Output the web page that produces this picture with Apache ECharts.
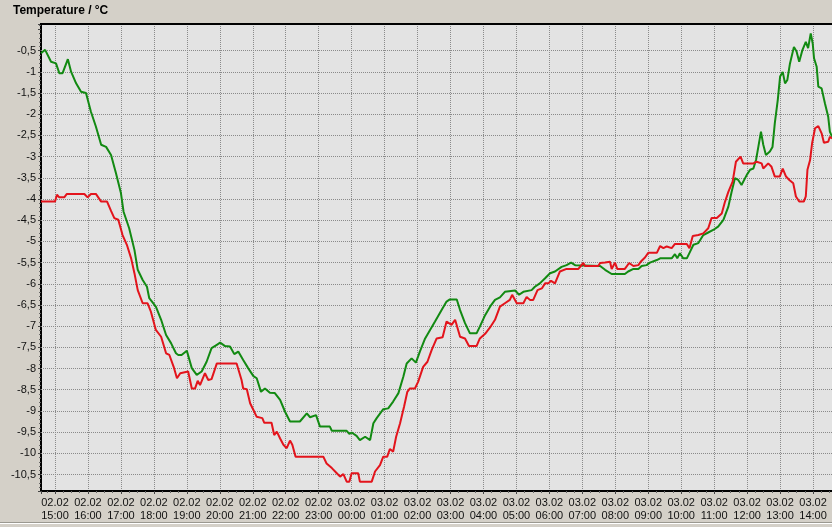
<!DOCTYPE html>
<html>
<head>
<meta charset="utf-8">
<script src="https://cdn.jsdelivr.net/npm/echarts@6/dist/echarts.min.js"></script>
<style>
html,body{margin:0;padding:0;background:#d4d0c8;}
#c{width:832px;height:527px;}
</style>
</head>
<body>
<div id="c"></div>
<script>
// time in hours since 02.02 00:00 ; values in °C
const greenTimes = [14.575,14.70,14.88,15.03,15.13,15.23,15.39,15.49,15.64,15.79,15.94,16.09,16.24,16.40,16.55,16.70,16.85,17.00,17.08,17.25,17.41,17.51,17.66,17.79,17.86,18.06,18.22,18.37,18.52,18.67,18.74,18.84,19.00,19.15,19.30,19.45,19.60,19.75,19.91,20.01,20.16,20.31,20.44,20.56,20.71,20.86,21.02,21.12,21.25,21.37,21.52,21.67,21.83,21.98,22.13,22.43,22.64,22.74,22.92,23.04,23.34,23.40,23.85,23.93,24.00,24.15,24.25,24.41,24.56,24.66,24.76,24.96,25.11,25.26,25.42,25.57,25.67,25.82,25.95,26.07,26.23,26.38,26.53,26.73,26.88,26.98,27.19,27.29,27.44,27.59,27.79,27.89,28.05,28.20,28.35,28.50,28.65,28.96,29.08,29.21,29.46,29.56,29.71,29.87,30.02,30.17,30.37,30.52,30.66,30.78,31.54,31.69,31.89,32.29,32.39,32.55,32.70,32.80,32.95,33.05,33.26,33.36,33.71,33.81,33.88,33.96,34.06,34.17,34.27,34.37,34.52,34.67,34.82,34.97,35.12,35.28,35.43,35.53,35.63,35.73,35.83,35.99,36.09,36.19,36.27,36.34,36.42,36.49,36.57,36.69,36.77,36.84,36.93,37.00,37.08,37.15,37.22,37.30,37.42,37.50,37.58,37.68,37.78,37.85,37.93,37.99,38.03,38.11,38.16,38.26,38.36,38.46,38.51,38.575];
const greenValues = [-0.56,-0.48,-0.76,-0.80,-1.03,-1.03,-0.70,-1.00,-1.27,-1.47,-1.50,-1.94,-2.29,-2.72,-2.77,-2.96,-3.39,-3.86,-4.30,-4.69,-5.20,-5.67,-5.91,-6.07,-6.34,-6.54,-6.85,-7.21,-7.40,-7.64,-7.68,-7.68,-7.58,-7.99,-8.15,-8.07,-7.84,-7.52,-7.44,-7.39,-7.47,-7.48,-7.66,-7.60,-7.80,-7.99,-8.18,-8.23,-8.55,-8.47,-8.57,-8.58,-8.74,-9.02,-9.25,-9.25,-9.06,-9.15,-9.10,-9.37,-9.37,-9.47,-9.47,-9.54,-9.51,-9.59,-9.69,-9.61,-9.69,-9.29,-9.17,-8.96,-8.94,-8.78,-8.58,-8.19,-7.88,-7.76,-7.86,-7.60,-7.29,-7.09,-6.89,-6.62,-6.42,-6.37,-6.37,-6.62,-6.93,-7.17,-7.17,-7.01,-6.74,-6.54,-6.38,-6.32,-6.19,-6.16,-6.26,-6.19,-6.15,-6.07,-5.99,-5.87,-5.75,-5.71,-5.60,-5.56,-5.50,-5.56,-5.58,-5.67,-5.77,-5.77,-5.71,-5.65,-5.65,-5.58,-5.56,-5.50,-5.44,-5.40,-5.40,-5.30,-5.40,-5.28,-5.40,-5.40,-5.24,-5.08,-5.04,-4.85,-4.79,-4.73,-4.65,-4.49,-4.18,-3.83,-3.51,-3.55,-3.67,-3.43,-3.31,-3.28,-3.08,-2.77,-2.41,-2.72,-2.96,-2.88,-2.77,-2.21,-1.66,-1.11,-1.00,-1.27,-1.19,-0.80,-0.41,-0.52,-0.76,-0.48,-0.29,-0.44,-0.09,-0.33,-0.68,-0.88,-1.35,-1.39,-1.74,-2.06,-2.41,-2.53];

const redTimes = [14.575,15.00,15.06,15.13,15.28,15.36,15.89,15.99,16.09,16.24,16.40,16.58,16.70,16.80,16.92,17.05,17.18,17.31,17.41,17.51,17.66,17.81,17.91,18.06,18.22,18.37,18.47,18.60,18.70,18.80,18.86,19.04,19.15,19.25,19.33,19.40,19.55,19.65,19.75,19.91,20.51,20.66,20.71,20.82,20.92,21.02,21.12,21.29,21.35,21.57,21.65,21.73,21.83,21.93,22.03,22.13,22.20,22.30,23.14,23.24,23.40,23.55,23.65,23.75,23.85,23.93,24.00,24.20,24.25,24.61,24.71,24.86,24.96,25.08,25.16,25.26,25.35,25.47,25.59,25.69,25.77,25.92,26.02,26.17,26.30,26.43,26.58,26.76,26.88,26.93,27.03,27.14,27.29,27.44,27.56,27.79,27.89,28.05,28.20,28.35,28.50,28.65,28.80,28.87,29.01,29.21,29.31,29.41,29.51,29.64,29.77,29.87,29.97,30.05,30.17,30.32,30.52,30.88,31.03,31.08,31.48,31.54,31.69,31.84,31.89,31.99,32.06,32.29,32.42,32.55,32.70,32.77,32.90,33.00,33.26,33.36,33.46,33.56,33.71,33.81,34.17,34.25,34.35,34.52,34.67,34.82,34.92,35.08,35.23,35.33,35.43,35.56,35.66,35.80,35.88,36.19,36.29,36.44,36.49,36.64,36.74,36.84,36.99,37.08,37.18,37.28,37.40,37.48,37.58,37.72,37.78,37.83,37.91,37.97,38.06,38.16,38.26,38.33,38.46,38.51,38.575];
const redValues = [-4.06,-4.06,-3.90,-3.96,-3.96,-3.88,-3.88,-3.96,-3.88,-3.88,-4.06,-4.06,-4.28,-4.45,-4.49,-4.85,-5.08,-5.40,-5.75,-6.15,-6.46,-6.46,-6.66,-7.09,-7.25,-7.64,-7.68,-7.96,-8.23,-8.11,-8.07,-8.07,-8.47,-8.47,-8.29,-8.39,-8.11,-8.27,-8.25,-7.88,-7.88,-8.27,-8.47,-8.49,-8.82,-8.98,-9.14,-9.17,-9.28,-9.28,-9.57,-9.49,-9.65,-9.80,-9.88,-9.70,-9.80,-10.08,-10.08,-10.24,-10.35,-10.47,-10.55,-10.49,-10.67,-10.67,-10.47,-10.47,-10.67,-10.67,-10.43,-10.28,-10.08,-10.08,-9.90,-9.96,-9.61,-9.29,-8.90,-8.55,-8.47,-8.47,-8.31,-7.96,-7.84,-7.56,-7.29,-7.26,-6.89,-6.89,-6.97,-6.85,-7.25,-7.29,-7.47,-7.47,-7.29,-7.18,-7.03,-6.85,-6.54,-6.46,-6.38,-6.26,-6.46,-6.46,-6.31,-6.38,-6.38,-6.15,-6.11,-5.99,-5.99,-5.93,-5.99,-5.71,-5.65,-5.65,-5.51,-5.58,-5.58,-5.51,-5.50,-5.48,-5.65,-5.50,-5.65,-5.65,-5.51,-5.58,-5.56,-5.48,-5.38,-5.27,-5.27,-5.11,-5.16,-5.12,-5.16,-5.06,-5.06,-5.16,-4.87,-4.85,-4.81,-4.69,-4.45,-4.45,-4.34,-4.06,-3.83,-3.59,-3.12,-3.00,-3.16,-3.16,-3.12,-3.16,-3.28,-3.16,-3.24,-3.47,-3.47,-3.28,-3.47,-3.55,-3.63,-3.94,-4.06,-4.06,-3.94,-3.31,-3.08,-2.69,-2.33,-2.28,-2.45,-2.67,-2.65,-2.53,-2.57];

const yGridValues = [-10.5,-10,-9.5,-9,-8.5,-8,-7.5,-7,-6.5,-6,-5.5,-5,-4.5,-4,-3.5,-3,-2.5,-2,-1.5,-1,-0.5];
const xMin = 14.575, xMax = 38.575;
const yMin = -10.89, yMax = 0.13;
const titleText = 'Temperature / °C';

function zip(t, v) { return t.map((x, i) => [x, v[i]]); }

const chart = echarts.init(document.getElementById('c'), null, {renderer: 'canvas'});
const FONT = 'Liberation Sans, Arial, sans-serif';
const GRID_COLOR = '#8a8a8a';
chart.setOption({
  animation: false,
  backgroundColor: '#d4d0c8',
  title: {
    text: titleText, left: 8, top: 0,
    textStyle: {fontFamily: FONT, fontSize: 12, fontWeight: 'bold', color: '#000'}
  },
  grid: {
    left: 41, right: 0, top: 24, bottom: 36,
    outerBoundsMode: 'none', containLabel: false,
    show: true, backgroundColor: '#e3e3e3', borderWidth: 0
  },
  xAxis: {
    type: 'value', min: xMin, max: xMax, splitNumber: 24,
    axisLine: {show: true, onZero: false, lineStyle: {color: '#000', width: 2}},
    axisTick: {show: true, length: 3, lineStyle: {color: '#444'}},
    minorTick: {show: true, splitNumber: 4, length: 2, lineStyle: {color: '#666'}},
    splitLine: {show: true, showMinLine: false, showMaxLine: false, lineStyle: {type: 'dotted', color: GRID_COLOR, width: 1}},
    axisLabel: {
      fontFamily: FONT, fontSize: 11, color: '#111', margin: 6, lineHeight: 12.5,
      formatter: function (v) {
        if (Math.abs(v - Math.round(v)) > 1e-6) return '';
        const h = Math.round(v);
        const day = h < 24 ? '02.02' : '03.02';
        const hh = h % 24;
        return day + '\n' + (hh < 10 ? '0' : '') + hh + ':00';
      }
    }
  },
  yAxis: {
    type: 'value', min: yMin, max: yMax, splitNumber: 22,
    axisLine: {show: true, onZero: false, lineStyle: {color: '#000', width: 2}},
    axisTick: {show: true, length: 3, lineStyle: {color: '#444'}},
    minorTick: {show: true, splitNumber: 5, length: 2, lineStyle: {color: '#666'}},
    splitLine: {show: false},
    axisLabel: {
      fontFamily: FONT, fontSize: 11, color: '#111', margin: 5,
      formatter: function (v) {
        if (Math.abs(v * 2 - Math.round(v * 2)) > 1e-6) return '';
        if (Math.abs(v) < 1e-6) return '';
        return String(Math.round(v * 2) / 2).replace('.', ',');
      }
    }
  },
  series: [
    {
      type: 'line', data: [], silent: true, z: 1,
      markLine: {
        silent: true, symbol: 'none', z: 1, animation: false,
        label: {show: false},
        lineStyle: {type: 'dotted', color: GRID_COLOR, width: 1},
        data: yGridValues.map(v => ({yAxis: v}))
      }
    },
    {
      type: 'line', data: zip(greenTimes, greenValues), showSymbol: false, z: 3,
      lineStyle: {color: '#128a12', width: 2}, itemStyle: {color: '#128a12'}
    },
    {
      type: 'line', data: zip(redTimes, redValues), showSymbol: false, z: 4,
      lineStyle: {color: '#e3141c', width: 2}, itemStyle: {color: '#e3141c'}
    }
  ],
  graphic: [
    {type: 'rect', shape: {x: 40, y: 23, width: 792, height: 2}, style: {fill: '#000'}, silent: true, z: 10},
    {type: 'rect', shape: {x: 0, y: 522, width: 832, height: 1}, style: {fill: '#9a9890'}, silent: true},
    {type: 'rect', shape: {x: 0, y: 523, width: 832, height: 1}, style: {fill: '#ffffff'}, silent: true}
  ]
});
</script>
</body>
</html>
